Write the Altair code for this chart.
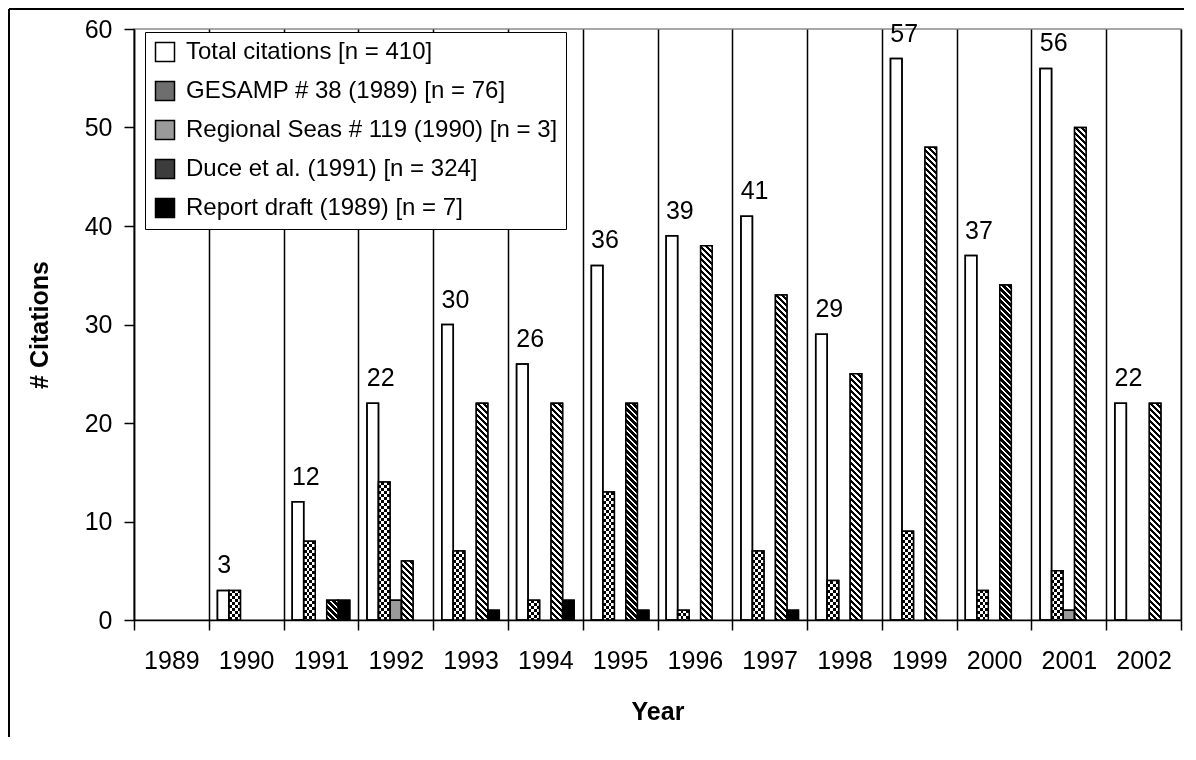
import altair as alt

# ---------------- data ----------------
years = ["1989", "1990", "1991", "1992", "1993", "1994", "1995",
         "1996", "1997", "1998", "1999", "2000", "2001", "2002"]
series = ["Total citations [n = 410]",
          "GESAMP # 38 (1989) [n = 76]",
          "Regional Seas # 119 (1990) [n = 3]",
          "Duce et al. (1991) [n = 324]",
          "Report draft (1989) [n = 7]"]
total = [0, 3, 12, 22, 30, 26, 36, 39, 41, 29, 57, 37, 56, 22]
gesamp = [0, 3, 8, 14, 7, 2, 13, 1, 7, 4, 9, 3, 5, 0]
regional = [0, 0, 0, 2, 0, 0, 0, 0, 0, 0, 0, 0, 1, 0]
duce = [0, 0, 2, 6, 22, 22, 22, 38, 33, 25, 48, 34, 50, 22]
report = [0, 0, 2, 0, 1, 2, 1, 0, 1, 0, 0, 0, 0, 0]

# ---------------- layout / style constants ----------------
W, H = 1047, 591
XO_PAD = 0.75          # outer padding of the 5-bar group inside each year
FONT = "Liberation Sans"
FS = 25
bar_w = (W / len(years)) / (len(series) + 2 * XO_PAD)
px_per_unit = H / 60.0


def diag_fill(v, period=6.0, dark=0.55):
    """diagonal '\\' hatch as a hard-stop linear gradient"""
    h = v * px_per_unit
    r = h / bar_w
    a = (1 + r) / (1 + r * r)
    L = bar_w + h
    stops = []
    k = 0
    while k * period < L:
        o0 = k * period / L
        o1 = min((k + dark) * period / L, 1.0)
        o2 = min((k + 1) * period / L, 1.0)
        stops += [{"offset": o0, "color": "black"}, {"offset": o1, "color": "black"},
                  {"offset": o1, "color": "white"}, {"offset": o2, "color": "white"}]
        k += 1
    return {"gradient": "linear", "x1": 0, "y1": 1, "x2": a, "y2": 1 - a * r, "stops": stops}


def vert_fill(cols=4):
    stops = []
    for k in range(cols):
        c = "black" if k % 2 == 0 else "white"
        stops += [{"offset": k / cols, "color": c}, {"offset": (k + 1) / cols, "color": c}]
    return {"gradient": "linear", "x1": 0, "y1": 0, "x2": 1, "y2": 0, "stops": stops}


def horiz_fill(v, cell=3.0):
    h = v * px_per_unit
    stops = []
    k = 0
    while k * cell < h:
        c = "white" if k % 2 == 0 else "rgba(0,0,0,0)"
        o0 = k * cell / h
        o1 = min((k + 1) * cell / h, 1.0)
        stops += [{"offset": o0, "color": c}, {"offset": o1, "color": c}]
        k += 1
    return {"gradient": "linear", "x1": 0, "y1": 0, "x2": 0, "y2": 1, "stops": stops}


all_vals = [total, gesamp, regional, duce, report]
rows = []
for s, vals in zip(series, all_vals):
    for y, v in zip(years, vals):
        if v > 0:
            rows.append({"year": y, "series": s, "value": v})

pattern_rows = []
xor_rows = []
for y, v in zip(years, gesamp):
    if v > 0:
        pattern_rows.append({"year": y, "series": series[1], "value": v, "fill": vert_fill()})
        xor_rows.append({"year": y, "series": series[1], "value": v, "fill": horiz_fill(v)})
for y, v in zip(years, duce):
    if v > 0:
        pattern_rows.append({"year": y, "series": series[3], "value": v, "fill": diag_fill(v)})

total_rows = [{"year": y, "series": series[0], "value": v} for y, v in zip(years, total) if v > 0]

x_enc = alt.X("year:N", title="Year",
              scale=alt.Scale(domain=years, paddingInner=0, paddingOuter=0),
              axis=alt.Axis(labelAngle=0, tickBand="extent", grid=True, gridColor="black",
                            gridWidth=1.5, tickSize=10, labelPadding=18, titlePadding=26))
y_enc = alt.Y("value:Q", title="# Citations",
              scale=alt.Scale(domain=[0, 60], nice=False),
              axis=alt.Axis(values=[0, 10, 20, 30, 40, 50, 60], grid=False, tickSize=10,
                            labelPadding=12, titlePadding=32))
xo_enc = alt.XOffset("series:N",
                     scale=alt.Scale(domain=series, paddingInner=0, paddingOuter=XO_PAD))

legend_fills = ["white", "#6e6e6e", "#9a9a9a", "#3c3c3c", "black"]

base = alt.Chart(alt.Data(values=rows)).mark_bar(stroke="black", strokeWidth=1.5).encode(
    x=x_enc, y=y_enc, xOffset=xo_enc,
    color=alt.Color("series:N",
                    scale=alt.Scale(domain=series, range=legend_fills),
                    legend=alt.Legend(title=None, orient="none", legendX=11, legendY=3,
                                      padding=8, strokeColor="black", fillColor="white",
                                      symbolType="square", symbolSize=361,
                                      symbolStrokeColor="black", symbolStrokeWidth=1.5,
                                      labelFontSize=24, labelFont=FONT, labelColor="black",
                                      labelOffset=9, rowPadding=13, labelLimit=800)),
)

patterns = alt.Chart(alt.Data(values=pattern_rows)).mark_bar(strokeWidth=0).encode(
    x=x_enc, y=y_enc, xOffset=xo_enc,
    fill=alt.Fill("fill:N", scale=None),
)

xor_layer = alt.Chart(alt.Data(values=xor_rows)).mark_bar(strokeWidth=0, blend="difference").encode(
    x=x_enc, y=y_enc, xOffset=xo_enc,
    fill=alt.Fill("fill:N", scale=None),
)

outlines = alt.Chart(alt.Data(values=rows)).mark_bar(
    fill="transparent", stroke="black", strokeWidth=1.5).encode(
    x=x_enc, y=y_enc, xOffset=xo_enc,
)

labels = alt.Chart(alt.Data(values=total_rows)).mark_text(
    align="left", baseline="alphabetic", dx=-6, dy=-17, fontSize=FS, font=FONT, color="black"
).encode(
    x=x_enc, y=y_enc, xOffset=xo_enc, text=alt.Text("value:Q"),
)

one = alt.Data(values=[{"k": 1}])
frame_left = alt.Chart(one).mark_rule(color="black", strokeWidth=2).encode(
    x=alt.value(-125), y=alt.value(-20), y2=alt.value(708))
frame_top = alt.Chart(one).mark_rule(color="black", strokeWidth=2).encode(
    x=alt.value(-125), x2=alt.value(1050), y=alt.value(-20))

chart = alt.layer(base, patterns, xor_layer, outlines, labels, frame_left, frame_top).properties(
    width=W, height=H, padding=0, background="white",
).configure_view(
    stroke="#8c8c8c", strokeWidth=1.5,
).configure_axis(
    labelFont=FONT, labelFontSize=FS, labelColor="black",
    titleFont=FONT, titleFontSize=FS, titleFontWeight="bold", titleColor="black",
    domainColor="black", domainWidth=1.5, tickColor="black", tickWidth=1.5,
)

chart.save("out.html", embed_options={"renderer": "svg", "actions": False})
